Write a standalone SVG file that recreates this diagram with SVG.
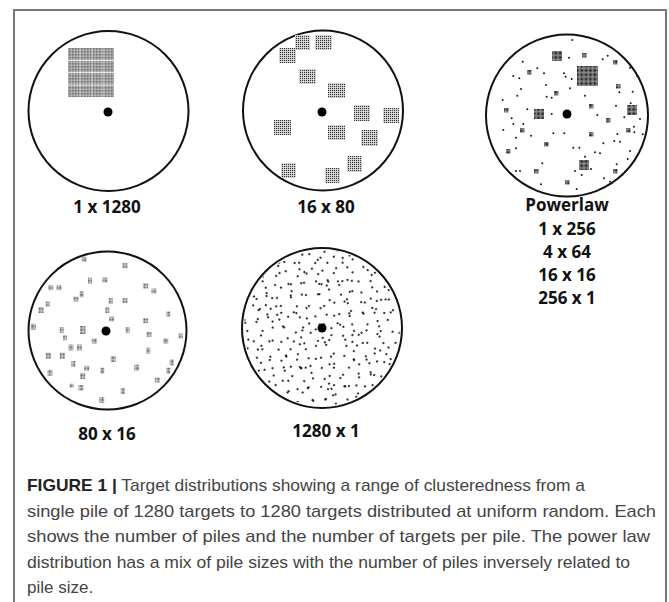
<svg xmlns="http://www.w3.org/2000/svg" width="669" height="602" viewBox="0 0 669 602">
<style>
.ring{fill:none;stroke:#111;stroke-width:2}
.hub{fill:#000}
.lbl{font-family:"Open Sans","Liberation Sans",sans-serif;font-weight:700;font-size:17px;text-anchor:middle;fill:#111}
.cap{font-family:"Liberation Sans",Arial,sans-serif;font-size:17px;fill:#444}
.d{fill:#1a1a1a}
.r{fill:#000}
.p16{fill:url(#g2)}
.p80{fill:url(#g14)}
.pl{fill:url(#gd)}
</style>
<defs>
<pattern id="g1" width="1.5" height="1.5" patternUnits="userSpaceOnUse"><rect width="1.5" height="1.5" fill="#c4c4c4"/><rect width="0.9" height="0.9" fill="#555"/></pattern>
<pattern id="g2" width="2" height="2" patternUnits="userSpaceOnUse"><rect width="2" height="2" fill="#ddd"/><rect width="1.1" height="1.1" fill="#333"/></pattern>
<pattern id="g14" width="1.4" height="1.4" patternUnits="userSpaceOnUse"><rect width="1.4" height="1.4" fill="#ccc"/><rect width="0.8" height="0.8" fill="#555"/></pattern>
<pattern id="gd" width="1.3" height="1.3" patternUnits="userSpaceOnUse"><rect width="1.3" height="1.3" fill="#999"/><rect width="0.8" height="0.8" fill="#111"/></pattern>
<pattern id="ra" width="47" height="47" patternUnits="userSpaceOnUse" patternTransform="rotate(23)">
<g class="r"><circle cx="3" cy="7" r="1.05"/><circle cx="12" cy="2" r="1.05"/><circle cx="21" cy="11" r="1.05"/><circle cx="33" cy="5" r="1.05"/><circle cx="42" cy="14" r="1.05"/><circle cx="8" cy="19" r="1.05"/><circle cx="17" cy="25" r="1.05"/><circle cx="28" cy="20" r="1.05"/><circle cx="38" cy="27" r="1.05"/><circle cx="45" cy="33" r="1.05"/><circle cx="2" cy="31" r="1.05"/><circle cx="13" cy="38" r="1.05"/><circle cx="24" cy="34" r="1.05"/><circle cx="31" cy="42" r="1.05"/><circle cx="40" cy="44" r="1.05"/><circle cx="6" cy="44" r="1.05"/><circle cx="35" cy="36" r="1.05"/></g>
</pattern>
<pattern id="rb" width="53" height="53" patternUnits="userSpaceOnUse" x="7" y="11" patternTransform="rotate(-31)">
<g class="r"><circle cx="5" cy="3" r="1.05"/><circle cx="16" cy="9" r="1.05"/><circle cx="29" cy="4" r="1.05"/><circle cx="41" cy="10" r="1.05"/><circle cx="2" cy="17" r="1.05"/><circle cx="13" cy="22" r="1.05"/><circle cx="24" cy="16" r="1.05"/><circle cx="37" cy="21" r="1.05"/><circle cx="47" cy="26" r="1.05"/><circle cx="8" cy="34" r="1.05"/><circle cx="20" cy="31" r="1.05"/><circle cx="31" cy="37" r="1.05"/><circle cx="44" cy="40" r="1.05"/><circle cx="15" cy="45" r="1.05"/><circle cx="39" cy="49" r="1.05"/></g>
</pattern>
<pattern id="rc" width="61" height="61" patternUnits="userSpaceOnUse" x="19" y="3" patternTransform="rotate(57)">
<g class="r"><circle cx="9" cy="12" r="1.05"/><circle cx="27" cy="6" r="1.05"/><circle cx="48" cy="18" r="1.05"/><circle cx="18" cy="33" r="1.05"/><circle cx="39" cy="41" r="1.05"/><circle cx="55" cy="52" r="1.05"/><circle cx="6" cy="55" r="1.05"/><circle cx="30" cy="58" r="1.05"/></g>
</pattern>
</defs>
<rect width="669" height="602" fill="#fff"/>
<path d="M14 602V10H666V602" fill="none" stroke="#777" stroke-width="2"/>

<g id="panel-1x1280">
<circle class="ring" cx="108.5" cy="111" r="80"/>
<rect x="68" y="48" width="46" height="49" fill="url(#g1)"/>
<g stroke="#fff" stroke-width="0.8"><path d="M68 60.5H114M68 72.5H114M68 85H114"/><path d="M80 48V97M92 48V97M103 48V97" stroke-opacity="0.5"/></g>
<circle class="hub" cx="108" cy="112" r="4.5"/>
<text class="lbl" x="107" y="213">1 x 1280</text>
</g>

<g id="panel-16x80">
<circle class="ring" cx="323" cy="110.5" r="80"/>
<rect class="p16" x="295" y="35" width="15" height="15"/>
<rect class="p16" x="315" y="35" width="17" height="15"/>
<rect class="p16" x="279" y="48" width="17" height="15"/>
<rect class="p16" x="299" y="69" width="17" height="15"/>
<rect class="p16" x="328" y="83" width="17" height="15"/>
<rect class="p16" x="354" y="105" width="16" height="16"/>
<rect class="p16" x="383" y="108" width="16" height="15"/>
<rect class="p16" x="274" y="120" width="17" height="15"/>
<rect class="p16" x="328" y="125" width="17" height="15"/>
<rect class="p16" x="361" y="130" width="17" height="16"/>
<rect class="p16" x="347" y="156" width="15" height="16"/>
<rect class="p16" x="281" y="163" width="15" height="15"/>
<rect class="p16" x="325" y="168" width="15" height="15"/>
<circle class="hub" cx="322" cy="112" r="4.5"/>
<text class="lbl" x="326" y="213">16 x 80</text>
</g>

<g id="panel-powerlaw">
<circle class="ring" cx="567" cy="115.5" r="81" stroke-width="2.4"/>
<rect class="pl" x="577" y="66" width="21" height="20"/>
<rect class="pl" x="552" y="51" width="10" height="10"/>
<rect class="pl" x="534" y="109" width="10" height="10"/>
<rect class="pl" x="627" y="105" width="10" height="10"/>
<rect class="pl" x="579" y="160" width="10" height="10"/>
<g class="pl">
<rect x="582" y="53" width="4.5" height="4.5"/><rect x="613" y="60" width="4.5" height="4.5"/><rect x="527" y="70" width="4.5" height="4.5"/><rect x="616" y="84" width="4.5" height="4.5"/><rect x="554" y="91" width="4.5" height="4.5"/><rect x="504" y="108" width="4.5" height="4.5"/><rect x="589" y="104" width="4.5" height="4.5"/><rect x="606" y="118" width="4.5" height="4.5"/><rect x="520" y="128" width="4.5" height="4.5"/><rect x="589" y="132" width="4.5" height="4.5"/><rect x="626" y="128" width="4.5" height="4.5"/><rect x="544" y="142" width="4.5" height="4.5"/><rect x="506" y="149" width="4.5" height="4.5"/><rect x="534" y="169" width="4.5" height="4.5"/><rect x="613" y="169" width="4.5" height="4.5"/><rect x="565" y="180" width="4.5" height="4.5"/>
</g>
<g class="d">
<circle cx="572.3" cy="40" r="1"/><circle cx="569" cy="57.7" r="1"/><circle cx="602.7" cy="59.3" r="1"/><circle cx="607.7" cy="55.7" r="1"/><circle cx="522.7" cy="61.7" r="1"/><circle cx="537.3" cy="68.3" r="1"/><circle cx="513.3" cy="76" r="1"/><circle cx="519.3" cy="78.3" r="1"/><circle cx="544" cy="73.3" r="1"/><circle cx="564" cy="73.3" r="1"/><circle cx="565.7" cy="76.7" r="1"/><circle cx="571.7" cy="79" r="1"/><circle cx="630" cy="67.7" r="1"/><circle cx="637.3" cy="75.7" r="1"/><circle cx="546" cy="85" r="1"/><circle cx="521" cy="89" r="1"/><circle cx="570" cy="88.3" r="1"/><circle cx="619.3" cy="92.3" r="1"/><circle cx="632.7" cy="91.7" r="1"/><circle cx="517.3" cy="95.7" r="1"/><circle cx="546.7" cy="96.7" r="1"/><circle cx="551.7" cy="97.7" r="1"/><circle cx="585" cy="95.7" r="1"/><circle cx="502.7" cy="100" r="1"/><circle cx="630.7" cy="103.3" r="1"/><circle cx="527.3" cy="109.3" r="1"/><circle cx="616" cy="105.7" r="1"/><circle cx="551.7" cy="114" r="1"/><circle cx="597.3" cy="115" r="1"/><circle cx="511.7" cy="118.3" r="1"/><circle cx="513.3" cy="124" r="1"/><circle cx="523.3" cy="124" r="1"/><circle cx="624.3" cy="117.3" r="1"/><circle cx="640" cy="119" r="1"/><circle cx="503.3" cy="130" r="1"/><circle cx="634" cy="126.7" r="1"/><circle cx="634.3" cy="132.3" r="1"/><circle cx="642.7" cy="134.3" r="1"/><circle cx="553.3" cy="133.3" r="1"/><circle cx="564.3" cy="133.3" r="1"/><circle cx="531" cy="135.7" r="1"/><circle cx="516" cy="137.7" r="1"/><circle cx="617.3" cy="134" r="1"/><circle cx="614.3" cy="141" r="1"/><circle cx="620" cy="141.7" r="1"/><circle cx="603.3" cy="143.3" r="1"/><circle cx="573.3" cy="147.7" r="1"/><circle cx="579.3" cy="147.7" r="1"/><circle cx="516" cy="148.3" r="1"/><circle cx="595" cy="152.3" r="1"/><circle cx="600" cy="153.3" r="1"/><circle cx="630" cy="151" r="1"/><circle cx="585" cy="156.7" r="1"/><circle cx="627.7" cy="159" r="1"/><circle cx="542.3" cy="163.3" r="1"/><circle cx="616.7" cy="164.3" r="1"/><circle cx="516" cy="171" r="1"/><circle cx="520" cy="171" r="1"/><circle cx="575" cy="171" r="1"/><circle cx="591" cy="169" r="1"/><circle cx="622.3" cy="175" r="1"/><circle cx="604" cy="178.3" r="1"/><circle cx="610" cy="181.7" r="1"/><circle cx="541" cy="184.3" r="1"/><circle cx="576.7" cy="189" r="1"/><circle cx="581.7" cy="175" r="1"/>
</g>
<circle class="hub" cx="567" cy="114" r="4.5"/>
<text class="lbl" x="567" y="211">Powerlaw</text>
<text class="lbl" x="567" y="235">1 x 256</text>
<text class="lbl" x="567" y="258">4 x 64</text>
<text class="lbl" x="567" y="281">16 x 16</text>
<text class="lbl" x="567" y="304">256 x 1</text>
</g>

<g id="panel-80x16">
<circle class="ring" cx="107.5" cy="330.5" r="79"/>
<g class="p80">
<rect x="81.8" y="256.8" width="5" height="5"/><rect x="122.5" y="263.2" width="5" height="5"/><rect x="88" y="277.7" width="4" height="6"/><rect x="102.5" y="277.5" width="5" height="5"/><rect x="48.2" y="285.2" width="5" height="5"/><rect x="56.5" y="285.2" width="5" height="5"/><rect x="143.2" y="283.5" width="5" height="5"/><rect x="151.5" y="288.5" width="5" height="5"/><rect x="79.7" y="291.3" width="4" height="6"/><rect x="73.5" y="296.5" width="5" height="5"/><rect x="108.7" y="298" width="4" height="6"/><rect x="122.5" y="298.2" width="5" height="5"/><rect x="45.7" y="301.5" width="4" height="5"/><rect x="38.5" y="307" width="5" height="6"/><rect x="105.3" y="307" width="4" height="6"/><rect x="166.3" y="311.5" width="4" height="5"/><rect x="109.2" y="316.5" width="5" height="5"/><rect x="143.2" y="318.2" width="5" height="5"/><rect x="30.8" y="323.7" width="5" height="6"/><rect x="59.7" y="327" width="4" height="6"/><rect x="80" y="326" width="5.5" height="8"/><rect x="125.7" y="327" width="4" height="6"/><rect x="146.5" y="331.8" width="5" height="5"/><rect x="63" y="335.2" width="4" height="5"/><rect x="91.8" y="338.5" width="5" height="5"/><rect x="163.2" y="338.5" width="5" height="5"/><rect x="178.7" y="333.5" width="4" height="5"/><rect x="68.5" y="344.5" width="5" height="6"/><rect x="76.8" y="344.5" width="5" height="6"/><rect x="146.3" y="347.7" width="4" height="6"/><rect x="45.8" y="352.7" width="5" height="6"/><rect x="59.8" y="352.7" width="5" height="6"/><rect x="110.8" y="356" width="5" height="6"/><rect x="169.7" y="359.3" width="4" height="6"/><rect x="71.3" y="361" width="4" height="6"/><rect x="84.2" y="365.8" width="5" height="5"/><rect x="134.2" y="364.7" width="5" height="6"/><rect x="100.3" y="367.7" width="4" height="6"/><rect x="166.3" y="367.7" width="4" height="6"/><rect x="47.5" y="369.7" width="5" height="6"/><rect x="80.2" y="373" width="5" height="6"/><rect x="154.8" y="377.5" width="5" height="5"/><rect x="69.7" y="383.7" width="4" height="4"/><rect x="78.5" y="385" width="5" height="5.5"/><rect x="120.7" y="388" width="4" height="6"/><rect x="99.2" y="397" width="5" height="6"/>
</g>
<circle class="hub" cx="106" cy="331" r="4.5"/>
<text class="lbl" x="107" y="440">80 x 16</text>
</g>

<g id="panel-1280x1">
<circle cx="322" cy="328" r="78" fill="url(#ra)"/>
<circle cx="322" cy="328" r="78" fill="url(#rb)"/>
<circle cx="322" cy="328" r="78" fill="url(#rc)"/>
<circle class="ring" cx="322" cy="328" r="80"/>
<circle class="hub" cx="322" cy="328" r="4.5"/>
<text class="lbl" x="326" y="437">1280 x 1</text>
</g>

<g id="caption" class="cap">
<text x="27" y="491" textLength="558" lengthAdjust="spacingAndGlyphs"><tspan font-weight="700" fill="#222">FIGURE 1 |</tspan> Target distributions showing a range of clusteredness from a</text>
<text x="27" y="516.5" textLength="629" lengthAdjust="spacingAndGlyphs">single pile of 1280 targets to 1280 targets distributed at uniform random. Each</text>
<text x="27" y="542" textLength="623" lengthAdjust="spacingAndGlyphs">shows the number of piles and the number of targets per pile. The power law</text>
<text x="27" y="567.5" textLength="603" lengthAdjust="spacingAndGlyphs">distribution has a mix of pile sizes with the number of piles inversely related to</text>
<text x="27" y="593">pile size.</text>
</g>
</svg>
